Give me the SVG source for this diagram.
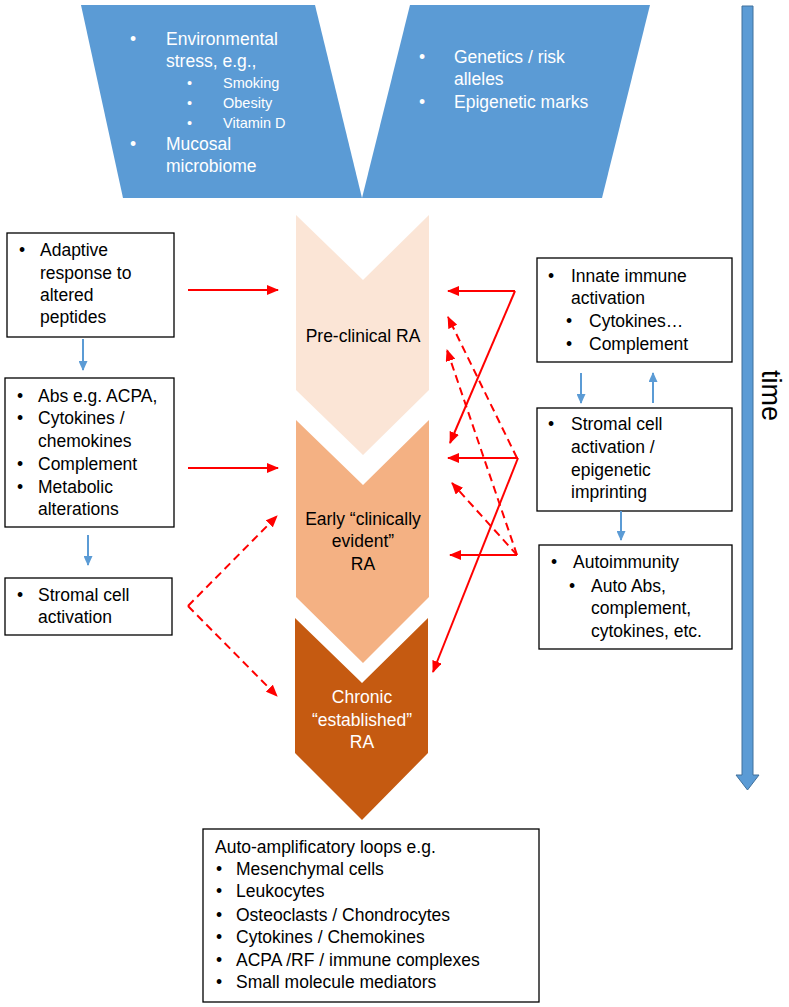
<svg xmlns="http://www.w3.org/2000/svg" width="789" height="1007" viewBox="0 0 789 1007">
<style>
text{font-family:"Liberation Sans",Arial,sans-serif;font-size:17.5px;fill:#000}
.w{fill:#fff}
.s{font-size:14.5px}
.box{fill:#fff;stroke:#000;stroke-width:1.3}
.blue{fill:#5B9BD5}
.r{stroke:#FF0000;stroke-width:2;fill:none;marker-end:url(#ra)}
.d{stroke-dasharray:8 5}
.b{stroke:#5B9BD5;stroke-width:2;fill:none;marker-end:url(#ba)}
</style>
<defs>
<marker id="ra" markerUnits="userSpaceOnUse" markerWidth="12" markerHeight="10" refX="11" refY="5" orient="auto"><path d="M0,0 L12,5 L0,10 z" fill="#FF0000"/></marker>
<marker id="ba" markerUnits="userSpaceOnUse" markerWidth="10" markerHeight="9" refX="9" refY="4.5" orient="auto"><path d="M0,0 L10,4.5 L0,9 z" fill="#5B9BD5"/></marker>
</defs>

<g id="env">
<path class="blue" d="M81,5 L315,5 L362,198 L123,198 z"/>
<text class="w" x="130" y="45">•</text><text class="w" x="166" y="45">Environmental</text>
<text class="w" x="166" y="67">stress,  e.g.,</text>
<text class="w s" x="187" y="88">•</text><text class="w s" x="223" y="88">Smoking</text>
<text class="w s" x="187" y="108">•</text><text class="w s" x="223" y="108">Obesity</text>
<text class="w s" x="187" y="128">•</text><text class="w s" x="223" y="128">Vitamin D</text>
<text class="w" x="130" y="150">•</text><text class="w" x="166" y="150">Mucosal</text>
<text class="w" x="166" y="172">microbiome</text>
</g>

<g id="genetics">
<path class="blue" d="M410,5 L650,5 L602,198 L362,198 z"/>
<text class="w" x="419" y="63">•</text><text class="w" x="454" y="63">Genetics / risk</text>
<text class="w" x="454" y="85">alleles</text>
<text class="w" x="419" y="108">•</text><text class="w" x="454" y="108">Epigenetic marks</text>
</g>

<g id="time">
<path d="M742,6 L753,6 L753,775 L759,775 L747.5,790 L736,775 L742,775 z" fill="#5B9BD5" stroke="#41719C" stroke-width="1"/>
<text transform="translate(762,370) rotate(90)" style="font-size:27px">time</text>
</g>

<g id="preclinical">
<path d="M296,215 L363,280 L429,215 L429,390 L363,455 L296,390 z" fill="#FBE5D6"/>
<text x="363" y="342" text-anchor="middle">Pre-clinical RA</text>
</g>
<g id="early">
<path d="M296,420 L363,485 L429,420 L429,597 L363,663 L296,597 z" fill="#F4B183"/>
<text x="363" y="525" text-anchor="middle">Early “clinically</text>
<text x="363" y="547" text-anchor="middle">evident”</text>
<text x="363" y="570" text-anchor="middle">RA</text>
</g>
<g id="chronic">
<path d="M295,618 L362,683 L428,618 L428,753 L362,820 L295,753 z" fill="#C55A11"/>
<text class="w" x="362" y="703" text-anchor="middle">Chronic</text>
<text class="w" x="362" y="726" text-anchor="middle">“established”</text>
<text class="w" x="362" y="748" text-anchor="middle">RA</text>
</g>

<g id="adaptive">
<rect class="box" x="7" y="233" width="167" height="104"/>
<text x="19" y="256">•</text><text x="40" y="256">Adaptive</text>
<text x="40" y="279">response to</text>
<text x="40" y="301">altered</text>
<text x="40" y="323">peptides</text>
</g>
<g id="abs">
<rect class="box" x="5" y="378" width="169" height="149"/>
<text x="17" y="402">•</text><text x="38" y="402">Abs e.g. ACPA,</text>
<text x="17" y="424">•</text><text x="38" y="424">Cytokines /</text>
<text x="38" y="447">chemokines</text>
<text x="17" y="470">•</text><text x="38" y="470">Complement</text>
<text x="17" y="493">•</text><text x="38" y="493">Metabolic</text>
<text x="38" y="515">alterations</text>
</g>
<g id="stromal-left">
<rect class="box" x="5" y="578" width="167" height="57"/>
<text x="17" y="601">•</text><text x="38" y="601">Stromal cell</text>
<text x="38" y="623">activation</text>
</g>

<g id="innate">
<rect class="box" x="537" y="258" width="195" height="104"/>
<text x="548" y="282">•</text><text x="571" y="282">Innate immune</text>
<text x="571" y="304">activation</text>
<text x="566" y="327">•</text><text x="589" y="327">Cytokines…</text>
<text x="566" y="350">•</text><text x="589" y="350">Complement</text>
</g>
<g id="stromal-right">
<rect class="box" x="537" y="408" width="195" height="103"/>
<text x="548" y="430">•</text><text x="571" y="430">Stromal cell</text>
<text x="571" y="453">activation /</text>
<text x="571" y="476">epigenetic</text>
<text x="571" y="498">imprinting</text>
</g>
<g id="autoimmunity">
<rect class="box" x="539" y="545" width="193" height="104"/>
<text x="551" y="568">•</text><text x="573" y="568">Autoimmunity</text>
<text x="569" y="592">•</text><text x="591" y="592">Auto Abs,</text>
<text x="591" y="614">complement,</text>
<text x="591" y="637">cytokines, etc.</text>
</g>

<g id="loops">
<rect class="box" x="203" y="829" width="336" height="173"/>
<text x="215" y="853">Auto-amplificatory loops e.g.</text>
<text x="216" y="875">•</text><text x="236" y="875">Mesenchymal cells</text>
<text x="216" y="897">•</text><text x="236" y="897">Leukocytes</text>
<text x="216" y="921">•</text><text x="236" y="921">Osteoclasts / Chondrocytes</text>
<text x="216" y="943">•</text><text x="236" y="943">Cytokines / Chemokines</text>
<text x="216" y="966">•</text><text x="236" y="966">ACPA /RF /  immune complexes</text>
<text x="216" y="988">•</text><text x="236" y="988">Small molecule mediators</text>
</g>

<g id="connectors">
<line class="b" x1="83" y1="339" x2="83" y2="370"/>
<line class="b" x1="88" y1="535" x2="88" y2="565"/>
<line class="b" x1="581" y1="373" x2="581" y2="403"/>
<line class="b" x1="653" y1="403" x2="653" y2="373"/>
<line class="b" x1="621" y1="511" x2="621" y2="540"/>

<line class="r" x1="188" y1="290" x2="278" y2="290"/>
<line class="r" x1="188" y1="468" x2="278" y2="468"/>
<line class="r d" x1="188" y1="606" x2="277" y2="516"/>
<line class="r d" x1="188" y1="606" x2="277" y2="696"/>

<line class="r" x1="515" y1="291" x2="448" y2="291"/>
<line class="r" x1="515" y1="291" x2="450" y2="443"/>
<line class="r" x1="518" y1="458" x2="448" y2="458"/>
<line class="r" x1="518" y1="458" x2="433" y2="672"/>
<line class="r" x1="517" y1="555" x2="450" y2="555"/>
<line class="r d" x1="517" y1="458" x2="448" y2="317"/>
<line class="r d" x1="517" y1="555" x2="447" y2="350"/>
<line class="r d" x1="517" y1="555" x2="452" y2="483"/>
</g>
</svg>
